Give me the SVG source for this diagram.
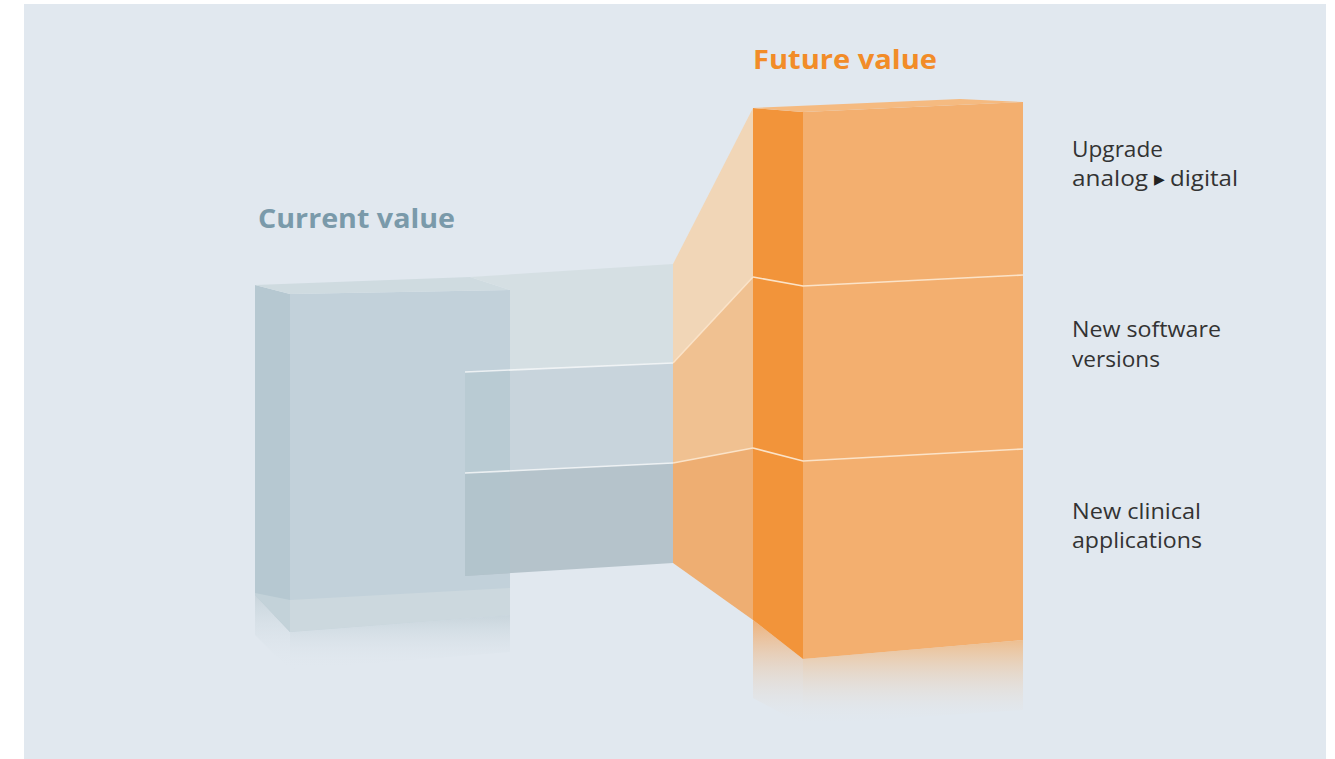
<svg xmlns="http://www.w3.org/2000/svg" width="1335" height="759" viewBox="0 0 1335 759">
  <defs>
    <style>
      .title { font-family: "Open Sans", "Liberation Sans", sans-serif; font-weight: 700; font-size: 27px; }
      .label { font-family: "Open Sans", "Liberation Sans", sans-serif; font-size: 21px; fill: #333333; }
      .sep { stroke: #f4f7f8; stroke-width: 1.6; fill: none; stroke-opacity: 0.85; }
      .sepo { stroke: #fbe3c8; stroke-width: 1.6; fill: none; }
    </style>
    <linearGradient id="reflGray" x1="0" y1="0" x2="0" y2="1">
      <stop offset="0" stop-color="#c6d3da" stop-opacity="0.9"/>
      <stop offset="1" stop-color="#e1e8ef" stop-opacity="0"/>
    </linearGradient>
    <linearGradient id="reflOrange" x1="0" y1="0" x2="0" y2="1">
      <stop offset="0" stop-color="#f0b77e" stop-opacity="0.85"/>
      <stop offset="1" stop-color="#e1e8ef" stop-opacity="0"/>
    </linearGradient>
    <linearGradient id="reflDark" x1="0" y1="0" x2="0" y2="1">
      <stop offset="0" stop-color="#f2a45c" stop-opacity="0.8"/>
      <stop offset="1" stop-color="#e1e8ef" stop-opacity="0"/>
    </linearGradient>
  </defs>

  <rect x="24" y="4" width="1302" height="755" fill="#e1e8ef"/>

  <!-- Current value box -->
  <g id="current-box">
    <polygon points="290,632 510,615 510,652 290,670" fill="url(#reflGray)"/>
    <polygon points="255,595 290,632 290,670 255,635" fill="url(#reflGray)"/>
    <polygon points="255,285 290,294 290,632 255,595" fill="#b6c8d1"/>
    <polygon points="255,593 290,600 290,632 255,595" fill="#c3d2d9"/>
    <polygon points="290,294 510,290 510,615 290,632" fill="#c2d1da"/>
    <polygon points="290,600 510,588 510,615 290,632" fill="#ccd8de"/>
    <polygon points="255,285 470,277 510,290 290,294" fill="#cfdbe0"/>
  </g>

  <!-- Connecting bands -->
  <g id="connectors">
    <polygon points="470,277 673,264 673,363 510,370 510,290" fill="#d5dfe3"/>
    <polygon points="465,372 673,363 673,463 465,473" fill="#c8d4dc"/>
    <polygon points="465,372 510,370 510,471 465,473" fill="#b9cbd3"/>
    <polygon points="465,473 673,463 673,563 465,576" fill="#b5c3cb"/>
    <polygon points="465,473 510,471 510,573 465,576" fill="#b2c4cc"/>
    <polyline class="sep" points="465,372 673,363"/>
    <polyline class="sep" points="465,473 673,463"/>
    <!-- perspective faces -->
    <polygon points="673,264 753,108 753,277 673,363" fill="#f1d6b7"/>
    <polygon points="673,363 753,277 753,448 673,463" fill="#f0c191"/>
    <polygon points="673,463 753,448 753,620 673,563" fill="#eeae72"/>
    <polyline class="sepo" points="673,363 753,277"/>
    <polyline class="sepo" points="673,463 753,448"/>
  </g>

  <!-- Future value box -->
  <g id="future-box">
    <polygon points="753,620 803,659 803,725 753,698" fill="url(#reflDark)"/>
    <polygon points="803,659 1023,640 1023,710 803,725" fill="url(#reflOrange)"/>
    <polygon points="753,108 803,112 803,659 753,620" fill="#f2943a"/>
    <polygon points="803,112 1023,102 1023,640 803,659" fill="#f3af6f"/>
    <polygon points="753,108 960,99 1023,102 803,112" fill="#f5ba80"/>
    <polyline class="sepo" points="753,277 803,286 1023,275"/>
    <polyline class="sepo" points="753,448 803,461 1023,449"/>
  </g>

  <!-- Titles -->
  <g id="title-current">
    <text class="title" x="258" y="228" fill="#7a9aaa" textLength="197" lengthAdjust="spacingAndGlyphs">Current value</text>
  </g>
  <g id="title-future">
    <text class="title" x="753" y="69" fill="#f28c28" textLength="184" lengthAdjust="spacingAndGlyphs">Future value</text>
  </g>

  <!-- Segment labels -->
  <g id="label-upgrade">
    <text class="label" x="1072" y="157" textLength="91" lengthAdjust="spacingAndGlyphs">Upgrade</text>
    <text class="label" y="186"><tspan x="1072" textLength="76" lengthAdjust="spacingAndGlyphs">analog</tspan><tspan x="1154" font-family="DejaVu Sans, sans-serif" font-size="14" fill="#222222" dy="-2">▶</tspan><tspan x="1170" dy="2" textLength="68" lengthAdjust="spacingAndGlyphs">digital</tspan></text>
  </g>
  <g id="label-software">
    <text class="label" x="1072" y="337" textLength="149" lengthAdjust="spacingAndGlyphs">New software</text>
    <text class="label" x="1072" y="367" textLength="88" lengthAdjust="spacingAndGlyphs">versions</text>
  </g>
  <g id="label-clinical">
    <text class="label" x="1072" y="519" textLength="129" lengthAdjust="spacingAndGlyphs">New clinical</text>
    <text class="label" x="1072" y="548" textLength="130" lengthAdjust="spacingAndGlyphs">applications</text>
  </g>
</svg>
